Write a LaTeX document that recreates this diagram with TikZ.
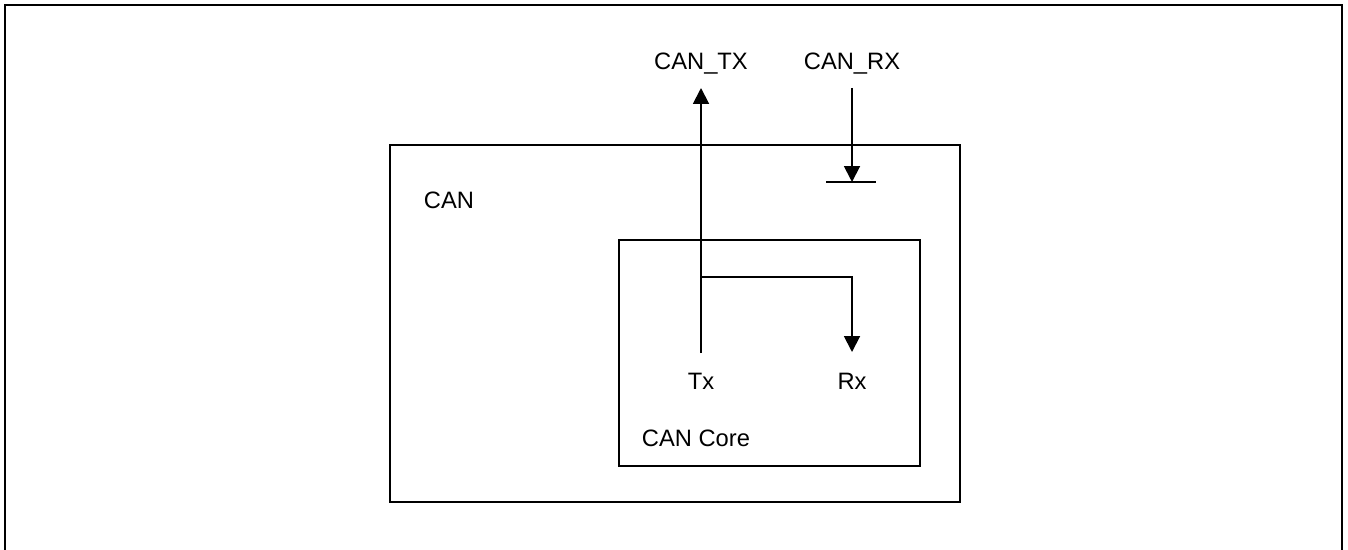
\documentclass[tikz,border=0pt]{standalone}
\usepackage{fontspec}
\setmainfont{Liberation Sans}
\usetikzlibrary{arrows.meta}

\begin{document}
\begin{tikzpicture}[x=0.02cm, y=-0.02cm, line width=1.1pt,
		>={Triangle[width=9pt,length=9pt]},
		lbl/.style={font=\fontsize{13.5}{16}\selectfont, inner sep=0pt},
		blk/.style={draw, rectangle, inner sep=0pt}]
	\useasboundingbox (0,0) rectangle (1348,550);
	% outer frame (open at the bottom)
	\draw[line width=1.6pt] (5,551) -- (5,5) -- (1342,5) -- (1342,551);
	% blocks
	\node[blk, minimum width=11.4cm, minimum height=7.14cm] (can)  at (675,323.5) {};
	\node[blk, minimum width=6.02cm, minimum height=4.52cm]  (core) at (769.5,353) {};
	% labels
	\node[lbl, anchor=west] (canlbl)  at (423,200) {CAN};
	\node[lbl, anchor=west] (corelbl) at (641,438.5) {CAN Core};
	\node[lbl] (tx)    at (701,381) {Tx};
	\node[lbl] (rx)    at (852,381) {Rx};
	\node[lbl] (cantx) at (701,64)  {CAN\_TX};
	\node[lbl] (canrx) at (852,64)  {CAN\_RX};
	% pin ends
	\coordinate (txfoot) at (701,353);
	\coordinate (txpin)  at (701,88);
	\coordinate (split)  at (701,277);
	\coordinate (rxfoot) at (852,352);
	\coordinate (rxpin)  at (852,88);
	\coordinate (rxbar)  at (852,182);
	% signals
	\draw[->] (txfoot) -- (txpin);
	\draw[->] (split) -| (rxfoot);
	\draw[->] (rxpin) -- (rxbar);
	\draw ([xshift=-0.52cm]rxbar) -- ([xshift=0.48cm]rxbar);
\end{tikzpicture}
\end{document}
